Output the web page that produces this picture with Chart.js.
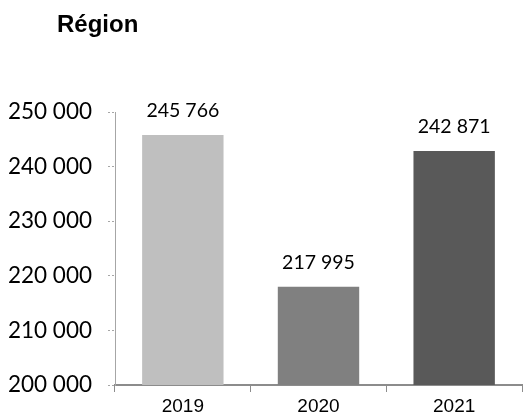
<!DOCTYPE html>
<html>
<head>
<meta charset="utf-8">
<script src="https://cdn.jsdelivr.net/npm/chart.js@4/dist/chart.umd.min.js"></script>
<style>
  html, body { margin: 0; padding: 0; background: #fff; }
  #wrap { width: 523px; height: 418px; position: relative; }
</style>
</head>
<body>
<div id="wrap"><canvas id="chart"></canvas></div>
<script>
const chartTitle = "Région";
const years = ["2019", "2020", "2021"];
const totals = [245766, 217995, 242871];
const barColors = ["#bfbfbf", "#808080", "#595959"];
const yMin = 200000;
const yMax = 250000;
const yStep = 10000;

function fmtSpace(v) {
    return String(Math.round(v)).replace(/\B(?=(\d{3})+(?!\d))/g, " ");
}

// title + value labels drawn on top of the bars
const labelPlugin = {
    id: "labelPlugin",
    afterDatasetsDraw(chart) {
        const ctx = chart.ctx;
        ctx.save();
        ctx.fillStyle = "#000";
        ctx.font = "bold 24px 'Liberation Sans', Arial, sans-serif";
        ctx.textAlign = "left";
        ctx.textBaseline = "alphabetic";
        ctx.fillText(chartTitle, 57, 32);

        const meta = chart.getDatasetMeta(0);
        ctx.font = "19.5px Lato, sans-serif";
        ctx.textAlign = "center";
        meta.data.forEach((bar, i) => {
            ctx.fillText(fmtSpace(totals[i]), bar.x, bar.y - 18);
        });
        ctx.restore();
    }
};

new Chart(document.getElementById("chart"), {
    type: "bar",
    data: {
        labels: years,
        datasets: [{
            data: totals,
            backgroundColor: barColors,
            borderWidth: 0,
            categoryPercentage: 1,
            barPercentage: 0.6,
        }]
    },
    options: {
        responsive: true,
        maintainAspectRatio: false,
        animation: false,
        layout: { padding: { top: 112, right: 1, left: 0, bottom: 0 } },
        plugins: {
            legend: { display: false },
            tooltip: { enabled: false },
            title: { display: false },
        },
        scales: {
            x: {
                grid: {
                    display: true,
                    drawOnChartArea: false,
                    drawTicks: true,
                    tickLength: 7,
                    color: "#8c8c8c",
                    offset: true,
                },
                border: { display: true, color: "#8c8c8c", width: 2 },
                ticks: {
                    color: "#000",
                    font: { family: "'Liberation Sans', Arial, sans-serif", size: 19 },
                    padding: 3,
                },
                afterFit(scale) { scale.height = 33; },
            },
            y: {
                min: yMin,
                max: yMax,
                grid: {
                    display: true,
                    drawOnChartArea: false,
                    drawTicks: true,
                    tickLength: 7,
                    color: "#a6a6a6",
                    tickBorderDash: [2, 2],
                },
                border: { display: true, color: "#a6a6a6", dash: [3, 2], width: 1 },
                ticks: {
                    stepSize: yStep,
                    color: "#000",
                    font: { family: "Lato, sans-serif", size: 22.5 },
                    padding: 16,
                    callback: (v) => fmtSpace(v),
                },
                afterFit(scale) { scale.width = 115; },
            }
        }
    },
    plugins: [labelPlugin]
});
</script>
</body>
</html>
